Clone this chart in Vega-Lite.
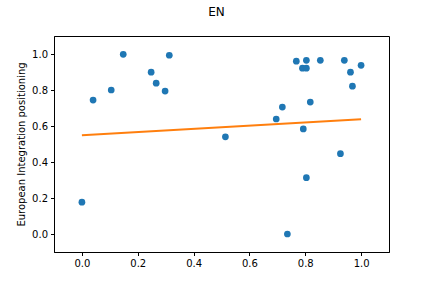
{
  "$schema": "https://vega.github.io/schema/vega-lite/v6.json",
  "width": 335,
  "height": 216,
  "autosize": "none",
  "padding": {"left": 54, "top": 36, "right": 43, "bottom": 36},
  "title": {"text": "EN", "fontSize": 12, "font": "DejaVu Sans", "fontWeight": "normal", "color": "black", "anchor": "middle", "offset": 17, "dx": -5},
  "config": {
    "view": {"stroke": "black", "strokeWidth": 1},
    "axis": {"labelFont": "DejaVu Sans", "labelFontSize": 10, "labelColor": "black", "titleFont": "DejaVu Sans", "titleFontSize": 10, "titleFontWeight": "normal", "titleColor": "black", "domainColor": "black", "tickColor": "black", "tickSize": 3.5, "grid": false, "labelPadding": 3}
  },
  "layer": [
    {
      "data": {"values": [
        {"x": 0.0, "y": 0.177},
        {"x": 0.040, "y": 0.744},
        {"x": 0.105, "y": 0.800},
        {"x": 0.148, "y": 0.998},
        {"x": 0.248, "y": 0.899},
        {"x": 0.266, "y": 0.838},
        {"x": 0.298, "y": 0.794},
        {"x": 0.313, "y": 0.993},
        {"x": 0.514, "y": 0.540},
        {"x": 0.696, "y": 0.639},
        {"x": 0.718, "y": 0.705},
        {"x": 0.736, "y": 0.0},
        {"x": 0.768, "y": 0.960},
        {"x": 0.790, "y": 0.921},
        {"x": 0.793, "y": 0.584},
        {"x": 0.804, "y": 0.921},
        {"x": 0.804, "y": 0.965},
        {"x": 0.804, "y": 0.313},
        {"x": 0.818, "y": 0.733},
        {"x": 0.854, "y": 0.965},
        {"x": 0.926, "y": 0.446},
        {"x": 0.940, "y": 0.965},
        {"x": 0.962, "y": 0.899},
        {"x": 0.969, "y": 0.821},
        {"x": 1.0, "y": 0.937}
      ]},
      "mark": {"type": "point", "filled": true, "opacity": 1, "size": 45, "color": "#1f77b4"},
      "encoding": {
        "x": {"field": "x", "type": "quantitative", "scale": {"domain": [-0.1, 1.1], "nice": false, "zero": false}, "axis": {"values": [0, 0.2, 0.4, 0.6, 0.8, 1.0], "format": ".1f", "title": null}},
        "y": {"field": "y", "type": "quantitative", "scale": {"domain": [-0.1, 1.1], "nice": false, "zero": false}, "axis": {"values": [0, 0.2, 0.4, 0.6, 0.8, 1.0], "format": ".1f", "title": "European Integration positioning", "titlePadding": 5}}
      }
    },
    {
      "data": {"values": [
        {"x": 0.0, "y": 0.549},
        {"x": 1.0, "y": 0.637}
      ]},
      "mark": {"type": "line", "color": "#ff7f0e", "strokeWidth": 2},
      "encoding": {
        "x": {"field": "x", "type": "quantitative"},
        "y": {"field": "y", "type": "quantitative"}
      }
    }
  ]
}
